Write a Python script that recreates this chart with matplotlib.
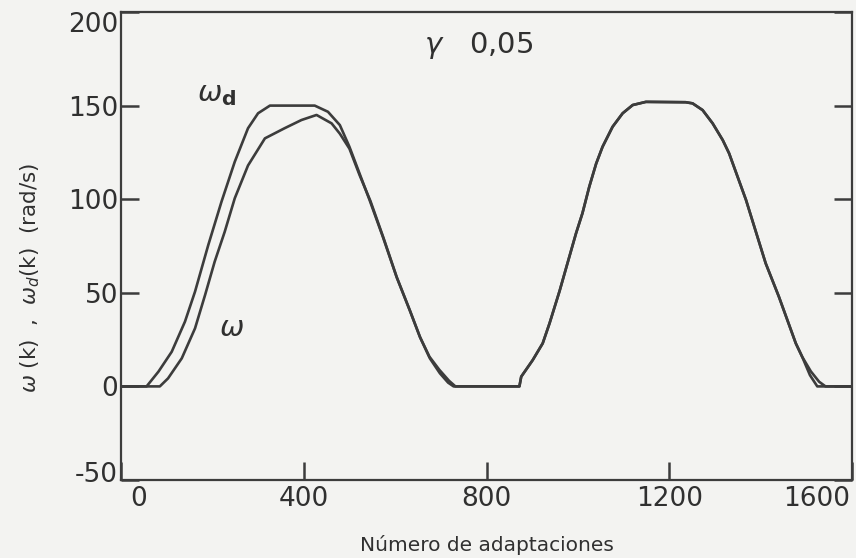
import matplotlib
matplotlib.use("Agg")
import matplotlib.pyplot as plt
import matplotlib.transforms as mtransforms

plt.rcParams['axes.unicode_minus'] = False
plt.rcParams['font.family'] = ['DejaVu Sans']

# desired speed omega_d(k)
wd_x = [0, 56, 82, 111, 140, 162, 191, 220, 249, 278, 300, 326, 424, 453, 479,
        500, 522, 544, 573, 603, 632, 654, 675, 697, 718, 732, 872, 876, 901,
        923, 938, 960, 974, 996, 1010, 1025, 1040, 1054, 1076, 1098, 1120, 1149,
        1236, 1251, 1273, 1295, 1317, 1331, 1368, 1411, 1440, 1477, 1491, 1508,
        1524, 1600]
wd_y = [0, 0, 7.9, 18.5, 34.6, 50.6, 75.5, 98.7, 120, 137.9, 145.9, 150, 150, 146.7, 139.6,
        128, 113.8, 99.6, 80, 58.6, 40.8, 26.6, 15.9, 8.8, 3, 0, 0, 5.2, 14,
        23, 33.7, 51, 63, 81.8, 92.5, 106.7, 119, 128, 138.7, 145.9, 150.3, 152,
        151.8, 151.2, 147.6, 140.5, 131.6, 124.5, 99.6, 65.8, 47.9, 23, 15.8, 6,
        0, 0]

# actual speed omega(k)
w_x = [0, 85, 103, 133, 162, 184, 205, 227, 249, 278, 315, 358, 395, 428, 461,
       479, 500, 522, 546, 575, 604, 633, 655, 676, 698, 716, 728, 872, 876, 901,
       923, 938, 960, 974, 996, 1010, 1025, 1040, 1054, 1076, 1098, 1120, 1149,
       1236, 1251, 1273, 1295, 1317, 1331, 1368, 1411, 1440, 1477, 1491, 1510,
       1528, 1542, 1600]
w_y = [0, 0, 4.3, 15, 31, 48.8, 66.6, 82.6, 100.5, 118, 132.5, 137.9, 142.3, 145, 140.5,
       135, 127, 113, 99, 79, 58, 40, 26, 15, 7, 2, 0, 0, 5.2, 14,
       23, 33.7, 51, 63, 81.8, 92.5, 106.7, 119, 128, 138.7, 145.9, 150.3, 152,
       151.8, 151.2, 147.6, 140.5, 131.6, 124.5, 99.6, 65.8, 47.9, 23, 15.8, 8,
       2.5, 0, 0]

x_ticks = [0, 400, 800, 1200, 1600]
y_ticks = [-50, 0, 50, 100, 150, 200]

ink = '#3c3c3c'
txt = '#303030'
paper = '#f3f3f1'

fig = plt.figure(figsize=(8.56, 5.58), dpi=100, facecolor=paper)
ax = fig.add_axes([121/856, 1-480/558, (852-121)/856, (480-12)/558])
ax.set_facecolor(paper)

ax.plot(wd_x, wd_y, color=ink, lw=1.9, solid_joinstyle='round')
ax.plot(w_x, w_y, color=ink, lw=1.9, solid_joinstyle='round')

ax.set_xlim(0, 1600)
ax.set_ylim(-50, 200)
ax.set_xticks(x_ticks)
ax.set_yticks(y_ticks)
ax.set_xticklabels([str(v) for v in x_ticks])
ax.set_yticklabels([str(v) for v in y_ticks])

for s in ax.spines.values():
    s.set_color(ink)
    s.set_linewidth(1.6)

ax.tick_params(axis='both', direction='in', length=13, width=1.8, color=ink,
               labelcolor=txt, labelsize=19, right=True, top=False)
ax.tick_params(axis='y', pad=2)
ax.tick_params(axis='x', pad=4)

# nudge end labels like the original
def shift(lab, dx, dy):
    lab.set_transform(lab.get_transform() +
                      mtransforms.ScaledTranslation(dx/100, dy/100, fig.dpi_scale_trans))

xl = ax.get_xticklabels()
shift(xl[0], 18, 0)
shift(xl[-1], -35, 0)
yl = ax.get_yticklabels()
shift(yl[0], 0, 8)
shift(yl[-1], 0, -10)

ax.text(782, 182, r'$\gamma$   0,05', fontsize=21, color=txt,
        ha='center', va='center')
ax.text(210, 156, r'$\omega_\mathbf{d}$', fontsize=21, color=txt,
        ha='center', va='center')
ax.text(243, 31, r'$\omega$', fontsize=21, color=txt,
        ha='center', va='center')

fig.text(487/856, 1-545/558, 'Número de adaptaciones', fontsize=14.5,
         color=txt, ha='center', va='center')
fig.text(30/856, 1-278/558, r'$\omega$ (k)  ,  $\omega_d$(k)  (rad/s)',
         fontsize=15.5, color=txt, rotation=90, ha='center', va='center')

fig.savefig('out.png', dpi=100, facecolor=paper)
